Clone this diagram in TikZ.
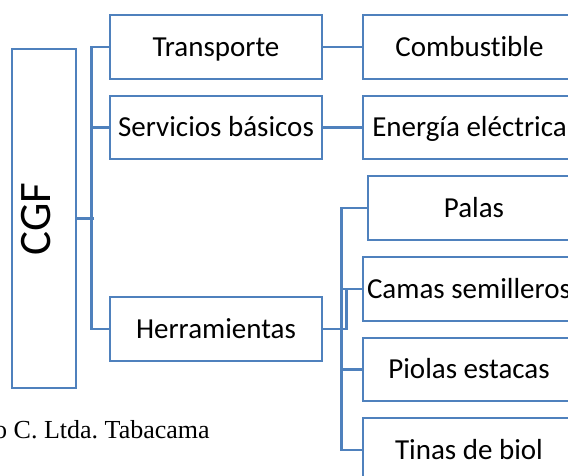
\documentclass[tikz,border=0pt]{standalone}
\usepackage{fontspec}
\setmainfont[Ligatures=NoCommon]{Carlito}
\newfontfamily\capfont{Liberation Serif}
\definecolor{bl}{RGB}{79,129,189}
\frenchspacing
\tikzset{
  box/.style={draw=bl, line width=2.8pt, fill=white, minimum width=212pt, minimum height=64pt,
    inner sep=0pt, text height=18.7pt, text depth=0pt, font=\fontsize{29}{34}\selectfont},
  conn/.style={draw=bl, line width=2.8pt},
}
\begin{document}
\begin{tikzpicture}[x=1pt,y=-1pt]
\useasboundingbox (0,0) rectangle (568,476);
\clip (0,0) rectangle (568,476);
\fill[white] (0,0) rectangle (568,476);
% left column
\node[box, minimum width=64pt, minimum height=339pt] (cgf) at (44,218.5) {};
\node[rotate=90, inner sep=0pt, font=\fontsize{45}{50}\selectfont] (cgflabel) at (36.5,219) {CGF};
\node[box] (tr) at (216,47) {Transporte};
\node[box, minimum height=63pt] (serv) at (216,127.5) {Servicios básicos};
\node[box] (herr) at (216,329) {Herramientas};
% right column
\node[box, minimum width=213pt] (comb) at (469.5,47) {Combustible};
\node[box, minimum width=213pt, minimum height=63pt] (ener) at (469.5,127.5) {Energía eléctrica};
\node[box] (palas) at (474,208) {Palas};
\node[box] (camas) at (469,289) {Camas semilleros};
\node[box, minimum height=63pt] (piolas) at (469,369.5) {Piolas estacas};
\node[box] (tinas) at (469,450) {Tinas de biol};
% caption
\node[anchor=base west, inner sep=0pt, font=\capfont\fontsize{26}{30}\selectfont] (cap) at (-6,438) {o C. Ltda. Tabacama};
% connectors
\draw[conn] (cgf.east) -- ++(17,0);
\draw[conn] (tr.west) -- ++(-17,0) |- (herr.west);
\draw[conn] ([xshift=-17pt]serv.west) -- (serv.west);
\draw[conn] (tr.east) -- (comb.west);
\draw[conn] (serv.east) -- (ener.west);
\draw[conn] (palas.west) -| ([xshift=-20pt]tinas.west) -- (tinas.west);
\draw[conn] ([xshift=-20pt]camas.west) -- (camas.west);
\draw[conn] ([xshift=-20pt]piolas.west) -- (piolas.west);
\draw[conn] (herr.east) -- ++(23,0) |- (camas.west);
\end{tikzpicture}
\end{document}
